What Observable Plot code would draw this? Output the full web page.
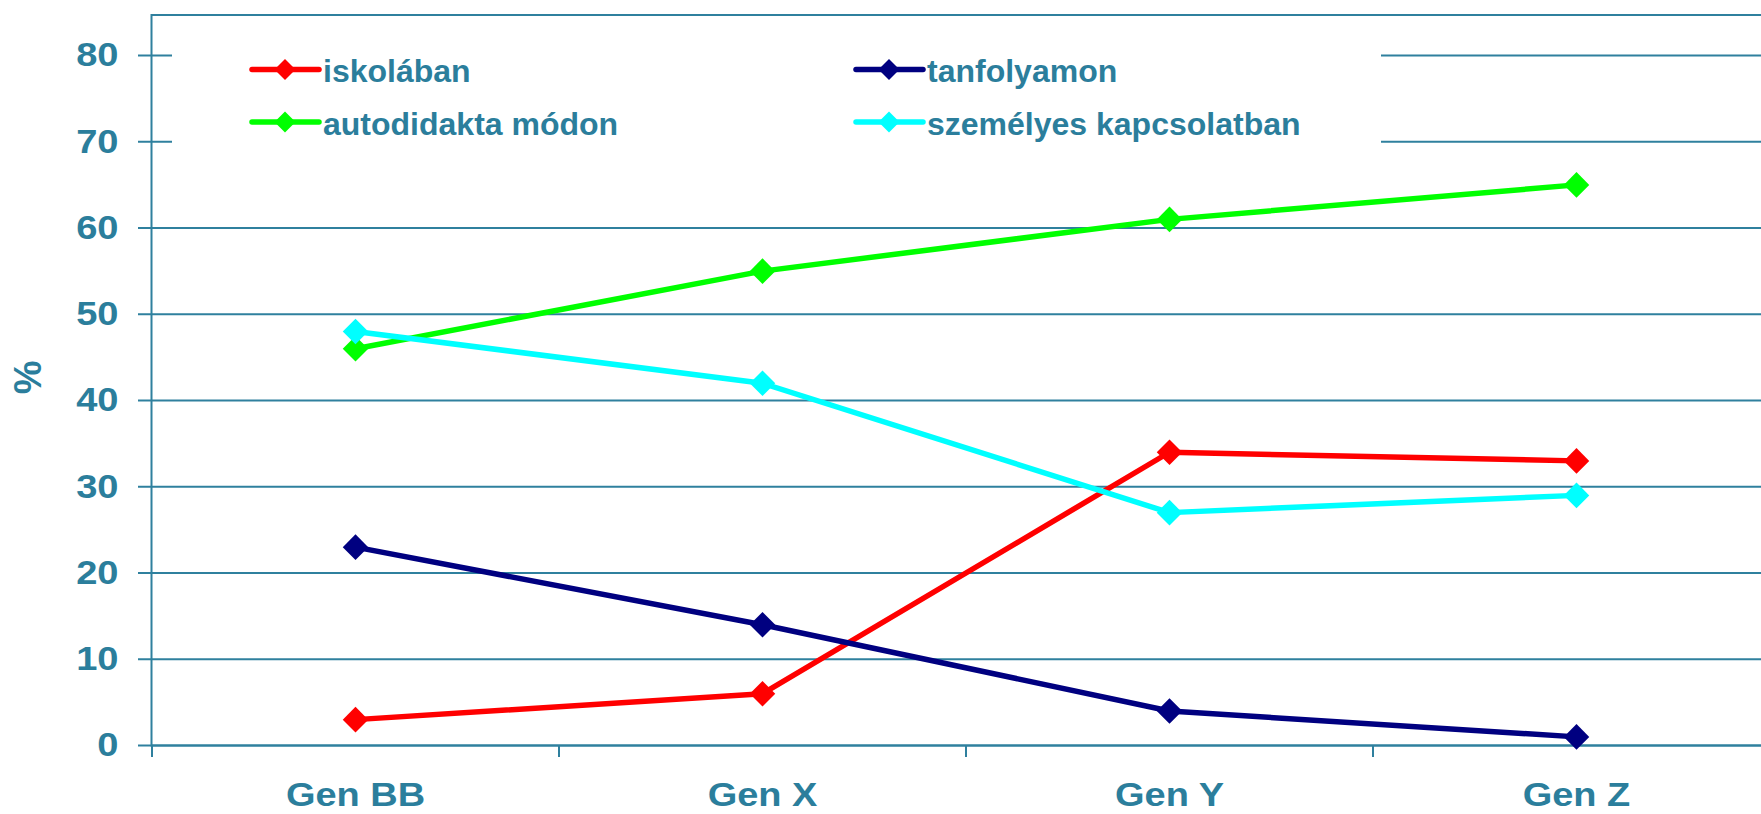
<!DOCTYPE html>
<html><head><meta charset="utf-8">
<script src="https://cdn.jsdelivr.net/npm/d3@7"></script>
<script src="https://cdn.jsdelivr.net/npm/@observablehq/plot@0.6"></script>
<style>
html,body{margin:0;padding:0;background:#fff;}
#chart svg{display:block;}
</style></head><body><div id="chart"></div>
<script>
const categories = ["Gen BB", "Gen X", "Gen Y", "Gen Z"];
const seriesNames = ["iskolában", "tanfolyamon", "autodidakta módon", "személyes kapcsolatban"];
const seriesColors = ["#ff0000", "#000080", "#00ff00", "#00ffff"];
const iskolaban = [3, 6, 34, 33];
const tanfolyamon = [23, 14, 4, 1];
const autodidakta = [46, 55, 61, 65];
const szemelyes = [48, 42, 27, 29];
const yTicks = [0, 10, 20, 30, 40, 50, 60, 70, 80];
const yLabel = "%";

const seriesValues = [iskolaban, tanfolyamon, autodidakta, szemelyes];
const data = seriesNames.flatMap((s, i) => categories.map((c, j) => ({series: s, category: c, value: seriesValues[i][j]})));

const W = 1761, H = 814;
const lineColor = "#2f809e", textColor = "#2b7e9c";
const mL = 151, mR = -18, mT = 14.5, mB = 69;
const step = (W - mL - mR) / categories.length;
const font = "'Liberation Sans', Arial, sans-serif";

const seriesMarks = seriesNames.flatMap(s => [
  Plot.line(data.filter(d => d.series === s), {x: "category", y: "value", stroke: "series", strokeWidth: 5.5, strokeLinejoin: "round"}),
  Plot.dot(data.filter(d => d.series === s), {x: "category", y: "value", fill: "series", symbol: "diamond2", r: 11.5})
]);

const plot = Plot.plot({
  width: W, height: H,
  marginLeft: mL, marginRight: mR, marginTop: mT, marginBottom: mB,
  style: {fontFamily: font, fontWeight: "bold", fontSize: "34px", color: textColor, background: "#fff", overflow: "hidden"},
  x: {type: "point", domain: categories, padding: 0.5},
  y: {domain: [0, 80], range: [H - mB, 55]},
  color: {domain: seriesNames, range: seriesColors},
  marks: [
    Plot.ruleY(yTicks, {stroke: lineColor, strokeWidth: 2}),
    Plot.frame({stroke: lineColor, strokeWidth: 2}),
    Plot.axisY({ticks: yTicks, tickSize: 13, tickPadding: 20, color: lineColor, fill: textColor, strokeWidth: 2, fontSize: 34, label: null}),
    Plot.axisX({tickSize: 12, tickFormat: () => "", dx: -step / 2, color: lineColor, strokeWidth: 2, label: null}),
    Plot.axisX({tickSize: 0, tickPadding: 37, fill: textColor, fontSize: 33, label: null}),
    Plot.text([yLabel], {frameAnchor: "left", dx: 28 - mL, dy: -3, rotate: -90, text: d => d, textAnchor: "middle", lineAnchor: "middle", fontSize: 38, fill: textColor}),
    ...seriesMarks
  ]
});
document.getElementById("chart").appendChild(plot);

// horizontal stretch for axis tick labels, keeping their anchor
const ns = "http://www.w3.org/2000/svg";
function stretch(el, k) {
  const ax = +(el.getAttribute("x") || 0);
  const g = document.createElementNS(ns, "g");
  const t = el.getAttribute("transform") || "";
  g.setAttribute("transform", `${t} translate(${ax},0) scale(${k},1) translate(${-ax},0)`);
  el.removeAttribute("transform");
  el.parentNode.insertBefore(g, el);
  g.appendChild(el);
}
plot.querySelectorAll('g[aria-label="y-axis tick label"] text').forEach(el => stretch(el, 1.12));
plot.querySelectorAll('g[aria-label="x-axis tick label"] text').forEach(el => stretch(el, 1.15));

// legend drawn inside the plot area with a white box over the gridlines
const legendCols = [252, 856], legendRows = [69.5, 122];
const lg = d3.create("svg:g").attr("aria-label", "legend").attr("text-anchor", "start");
lg.append("rect").attr("x", 172).attr("y", 26).attr("width", 1381 - 172).attr("height", 142).attr("fill", "#fff");
seriesNames.forEach((s, i) => {
  const x0 = legendCols[i % 2], y0 = legendRows[Math.floor(i / 2)];
  const item = lg.append("g");
  item.append("line").attr("x1", x0).attr("x2", x0 + 67).attr("y1", y0).attr("y2", y0)
    .attr("stroke", seriesColors[i]).attr("stroke-width", 5.5).attr("stroke-linecap", "round");
  const cx = x0 + 33, h = 10.5;
  item.append("path").attr("d", `M${cx},${y0 - h}L${cx + h},${y0}L${cx},${y0 + h}L${cx - h},${y0}Z`).attr("fill", seriesColors[i]);
  item.append("text").attr("x", x0 + 71).attr("y", y0 + 12.5).attr("fill", textColor).attr("text-anchor", "start")
    .attr("font-family", font).attr("font-weight", "bold").attr("font-size", 32).text(s);
});
const firstLine = plot.querySelector('g[aria-label="line"]');
plot.insertBefore(lg.node(), firstLine);
</script>
</body></html>
